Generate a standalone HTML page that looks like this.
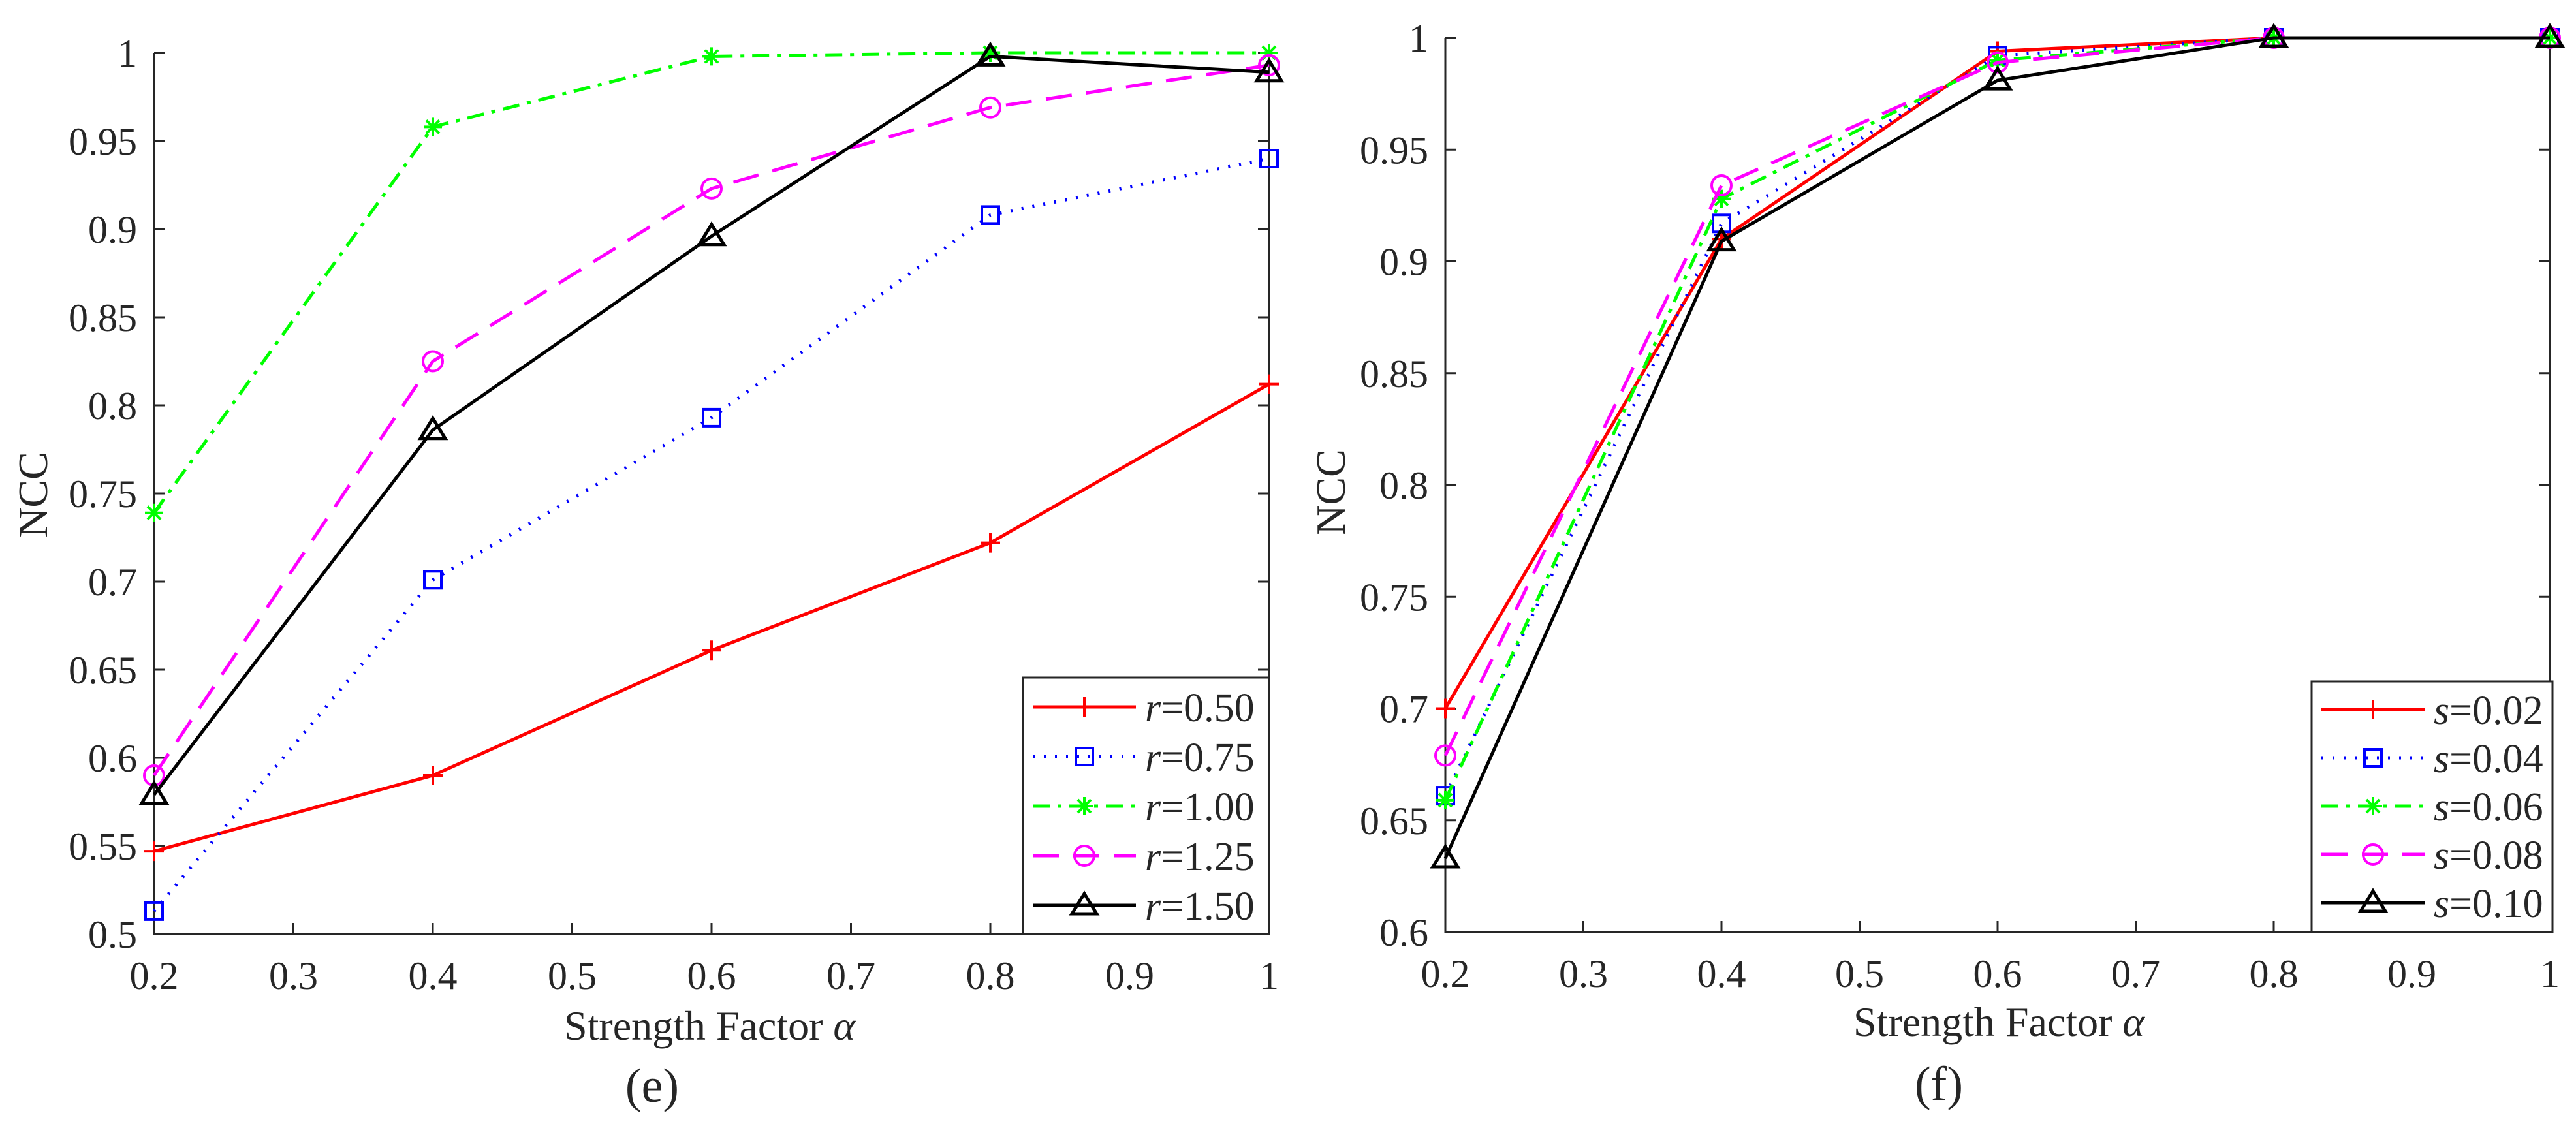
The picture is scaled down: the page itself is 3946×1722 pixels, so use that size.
<!DOCTYPE html>
<html><head><meta charset="utf-8"><style>
html,body{margin:0;padding:0;background:#fff}
svg{display:block}
text{font-family:"Liberation Serif",serif;fill:#262626}
</style></head><body>
<svg id="fig" width="3946" height="1722" viewBox="0 0 3946 1722" xmlns="http://www.w3.org/2000/svg"></svg>
<script>
const xValues=[0.2,0.4,0.6,0.8,1.0];
const xTicks=[0.2,0.3,0.4,0.5,0.6,0.7,0.8,0.9,1];
const xTickLabels=["0.2","0.3","0.4","0.5","0.6","0.7","0.8","0.9","1"];
const yTicksE=[0.5,0.55,0.6,0.65,0.7,0.75,0.8,0.85,0.9,0.95,1];
const yTickLabelsE=["0.5","0.55","0.6","0.65","0.7","0.75","0.8","0.85","0.9","0.95","1"];
const yTicksF=[0.6,0.65,0.7,0.75,0.8,0.85,0.9,0.95,1];
const yTickLabelsF=["0.6","0.65","0.7","0.75","0.8","0.85","0.9","0.95","1"];
const legendE=["0.50","0.75","1.00","1.25","1.50"];
const legendF=["0.02","0.04","0.06","0.08","0.10"];
const r050=[0.547,0.590,0.661,0.722,0.812];
const r075=[0.513,0.701,0.793,0.908,0.940];
const r100=[0.739,0.958,0.998,1.0,1.0];
const r125=[0.590,0.825,0.923,0.969,0.993];
const r150=[0.579,0.786,0.896,0.998,0.989];
const s002=[0.700,0.910,0.994,1.0,1.0];
const s004=[0.661,0.917,0.992,1.0,1.0];
const s006=[0.659,0.928,0.990,1.0,1.0];
const s008=[0.679,0.934,0.989,1.0,1.0];
const s010=[0.633,0.909,0.981,1.0,1.0];

const NS="http://www.w3.org/2000/svg";
const svg=document.getElementById('fig');
function mk(tag,attrs,parent){const e=document.createElementNS(NS,tag);for(const k in attrs)e.setAttribute(k,attrs[k]);(parent||svg).appendChild(e);return e;}

const styles=[
 {color:'#ff0000',dash:'',marker:'plus'},
 {color:'#0000ff',dash:'3 14',marker:'square'},
 {color:'#00ff00',dash:'26 12 6 12',marker:'star'},
 {color:'#ff00ff',dash:'40 22',marker:'circle'},
 {color:'#000000',dash:'',marker:'tri'}
];

function marker(g,type,cx,cy,color){
  const sw=4;let m;
  if(type==='plus'){m=mk('path',{d:`M${cx-15} ${cy}H${cx+15}M${cx} ${cy-15}V${cy+15}`,stroke:color,'stroke-width':sw,fill:'none'},g);}
  else if(type==='square'){m=mk('rect',{x:cx-13,y:cy-13,width:26,height:26,stroke:color,'stroke-width':sw,fill:'none'},g);}
  else if(type==='star'){m=mk('path',{d:`M${cx-14} ${cy}H${cx+14}M${cx} ${cy-14}V${cy+14}M${cx-10} ${cy-10}L${cx+10} ${cy+10}M${cx-10} ${cy+10}L${cx+10} ${cy-10}`,stroke:color,'stroke-width':sw,fill:'none'},g);}
  else if(type==='circle'){m=mk('circle',{cx:cx,cy:cy,r:15,stroke:color,'stroke-width':sw,fill:'none'},g);}
  else {m=mk('path',{d:`M${cx} ${cy-18}L${cx+19} ${cy+13}H${cx-19}Z`,stroke:color,'stroke-width':sw+1,fill:'none'},g);}
  
  
}

function chart(cfg){
  const g=mk('g',{});
  
  
  const xs=v=>cfg.x0+(v-0.2)/(0.8)*(cfg.x1-cfg.x0);
  const ys=v=>cfg.yB+(v-cfg.ymin)/(1-cfg.ymin)*(cfg.yT-cfg.yB);
  const top=cfg.yT-(cfg.topPad||0);
  // axes
  const ax=mk('path',{d:`M${cfg.x0} ${top}V${cfg.yB}H${cfg.x1}V${top}`,stroke:'#262626','stroke-width':3,fill:'none'},g);
  
  
  xTicks.forEach((t,i)=>{
    const x=xs(t);
    const tk=mk('line',{x1:x,x2:x,y1:cfg.yB,y2:cfg.yB-17,stroke:'#262626','stroke-width':3},g);
    
    
    const tl=mk('text',{x:x,y:cfg.yB+84,'font-size':60,'text-anchor':'middle'},g);
    tl.textContent=xTickLabels[i];
    
    
  });
  cfg.yTicks.forEach((t,i)=>{
    const y=ys(t);
    const tk=mk('line',{x1:cfg.x0,x2:cfg.x0+17,y1:y,y2:y,stroke:'#262626','stroke-width':3},g);
    
    
    const tk2=mk('line',{x1:cfg.x1,x2:cfg.x1-17,y1:y,y2:y,stroke:'#262626','stroke-width':3},g);
    
    
    const tl=mk('text',{x:cfg.x0-26,y:y+21,'font-size':60,'text-anchor':'end'},g);
    tl.textContent=cfg.yLabels[i];
    
    
  });
  const yl=mk('text',{x:0,y:0,'font-size':64,'text-anchor':'middle',transform:`translate(${cfg.ylx},${cfg.yly}) rotate(-90)`},g);
  yl.textContent='NCC';
  
  
  const xl=mk('text',{x:cfg.xlx,y:cfg.xly,'font-size':64,'text-anchor':'middle','xml:space':'preserve'},g);
  xl.innerHTML=cfg.xlText+'<tspan font-style="italic">α</tspan>';
  
  
  const pl=mk('text',{x:cfg.plx,y:cfg.ply,'font-size':74,'text-anchor':'middle'},g);
  pl.textContent=cfg.panel;
  
  
  // series
  cfg.series.forEach((vals,si)=>{
    const st=styles[si];
    const sg=mk('g',{},g);
    
    
    const pts=vals.map((v,i)=>xs(xValues[i])+','+ys(v)).join(' ');
    const pl=mk('polyline',{points:pts,stroke:st.color,'stroke-width':5,fill:'none','stroke-dasharray':st.dash,'stroke-linejoin':'round'},sg);
    
    
    vals.forEach((v,i)=>marker(sg,st.marker,xs(xValues[i]),ys(v),st.color));
  });
  // legend
  const lg=mk('g',{},g);
  
  
  const lb=mk('rect',{x:cfg.lx0,y:cfg.ly0,width:cfg.lx1-cfg.lx0,height:cfg.ly1-cfg.ly0,fill:'#fff',stroke:'#262626','stroke-width':3},lg);
  
  
  cfg.legend.forEach((lab,i)=>{
    const st=styles[i];
    const y=cfg.lrow0+i*cfg.lstep;
    const eg=mk('g',{},lg);
    
    
    mk('line',{x1:cfg.lx0+15,x2:cfg.lx0+173,y1:y,y2:y,stroke:st.color,'stroke-width':5,'stroke-dasharray':st.dash},eg);
    marker(eg,st.marker,cfg.lx0+94,y,st.color);
    const t=mk('text',{x:cfg.lx0+187,y:y+22,'font-size':62,fill:'#000'},eg);
    t.innerHTML='<tspan font-style="italic">'+cfg.var+'</tspan>='+lab;
  });
}

chart({name:'chart-e',x0:236,x1:1944,yB:1431,yT:81,ymin:0.5,topPad:0,yTicks:yTicksE,yLabels:yTickLabelsE,
  series:[r050,r075,r100,r125,r150],legend:legendE,var:'r',
  lx0:1567,lx1:1944,ly0:1038,ly1:1431,lrow0:1083,lstep:76,
  ylx:72,yly:758,xlx:1087,xly:1593,xlText:'Strength Factor ',plx:999,ply:1688,panel:'(e)'});
chart({name:'chart-f',x0:2214,x1:3906,yB:1428,yT:58,ymin:0.6,topPad:0,yTicks:yTicksF,yLabels:yTickLabelsF,
  series:[s002,s004,s006,s008,s010],legend:legendF,var:'s',
  lx0:3541,lx1:3910,ly0:1044,ly1:1428,lrow0:1087,lstep:74,
  ylx:2060,yly:754,xlx:3062,xly:1587,xlText:'Strength Factor  ',plx:2970,ply:1685,panel:'(f)'});
</script>
</body></html>
